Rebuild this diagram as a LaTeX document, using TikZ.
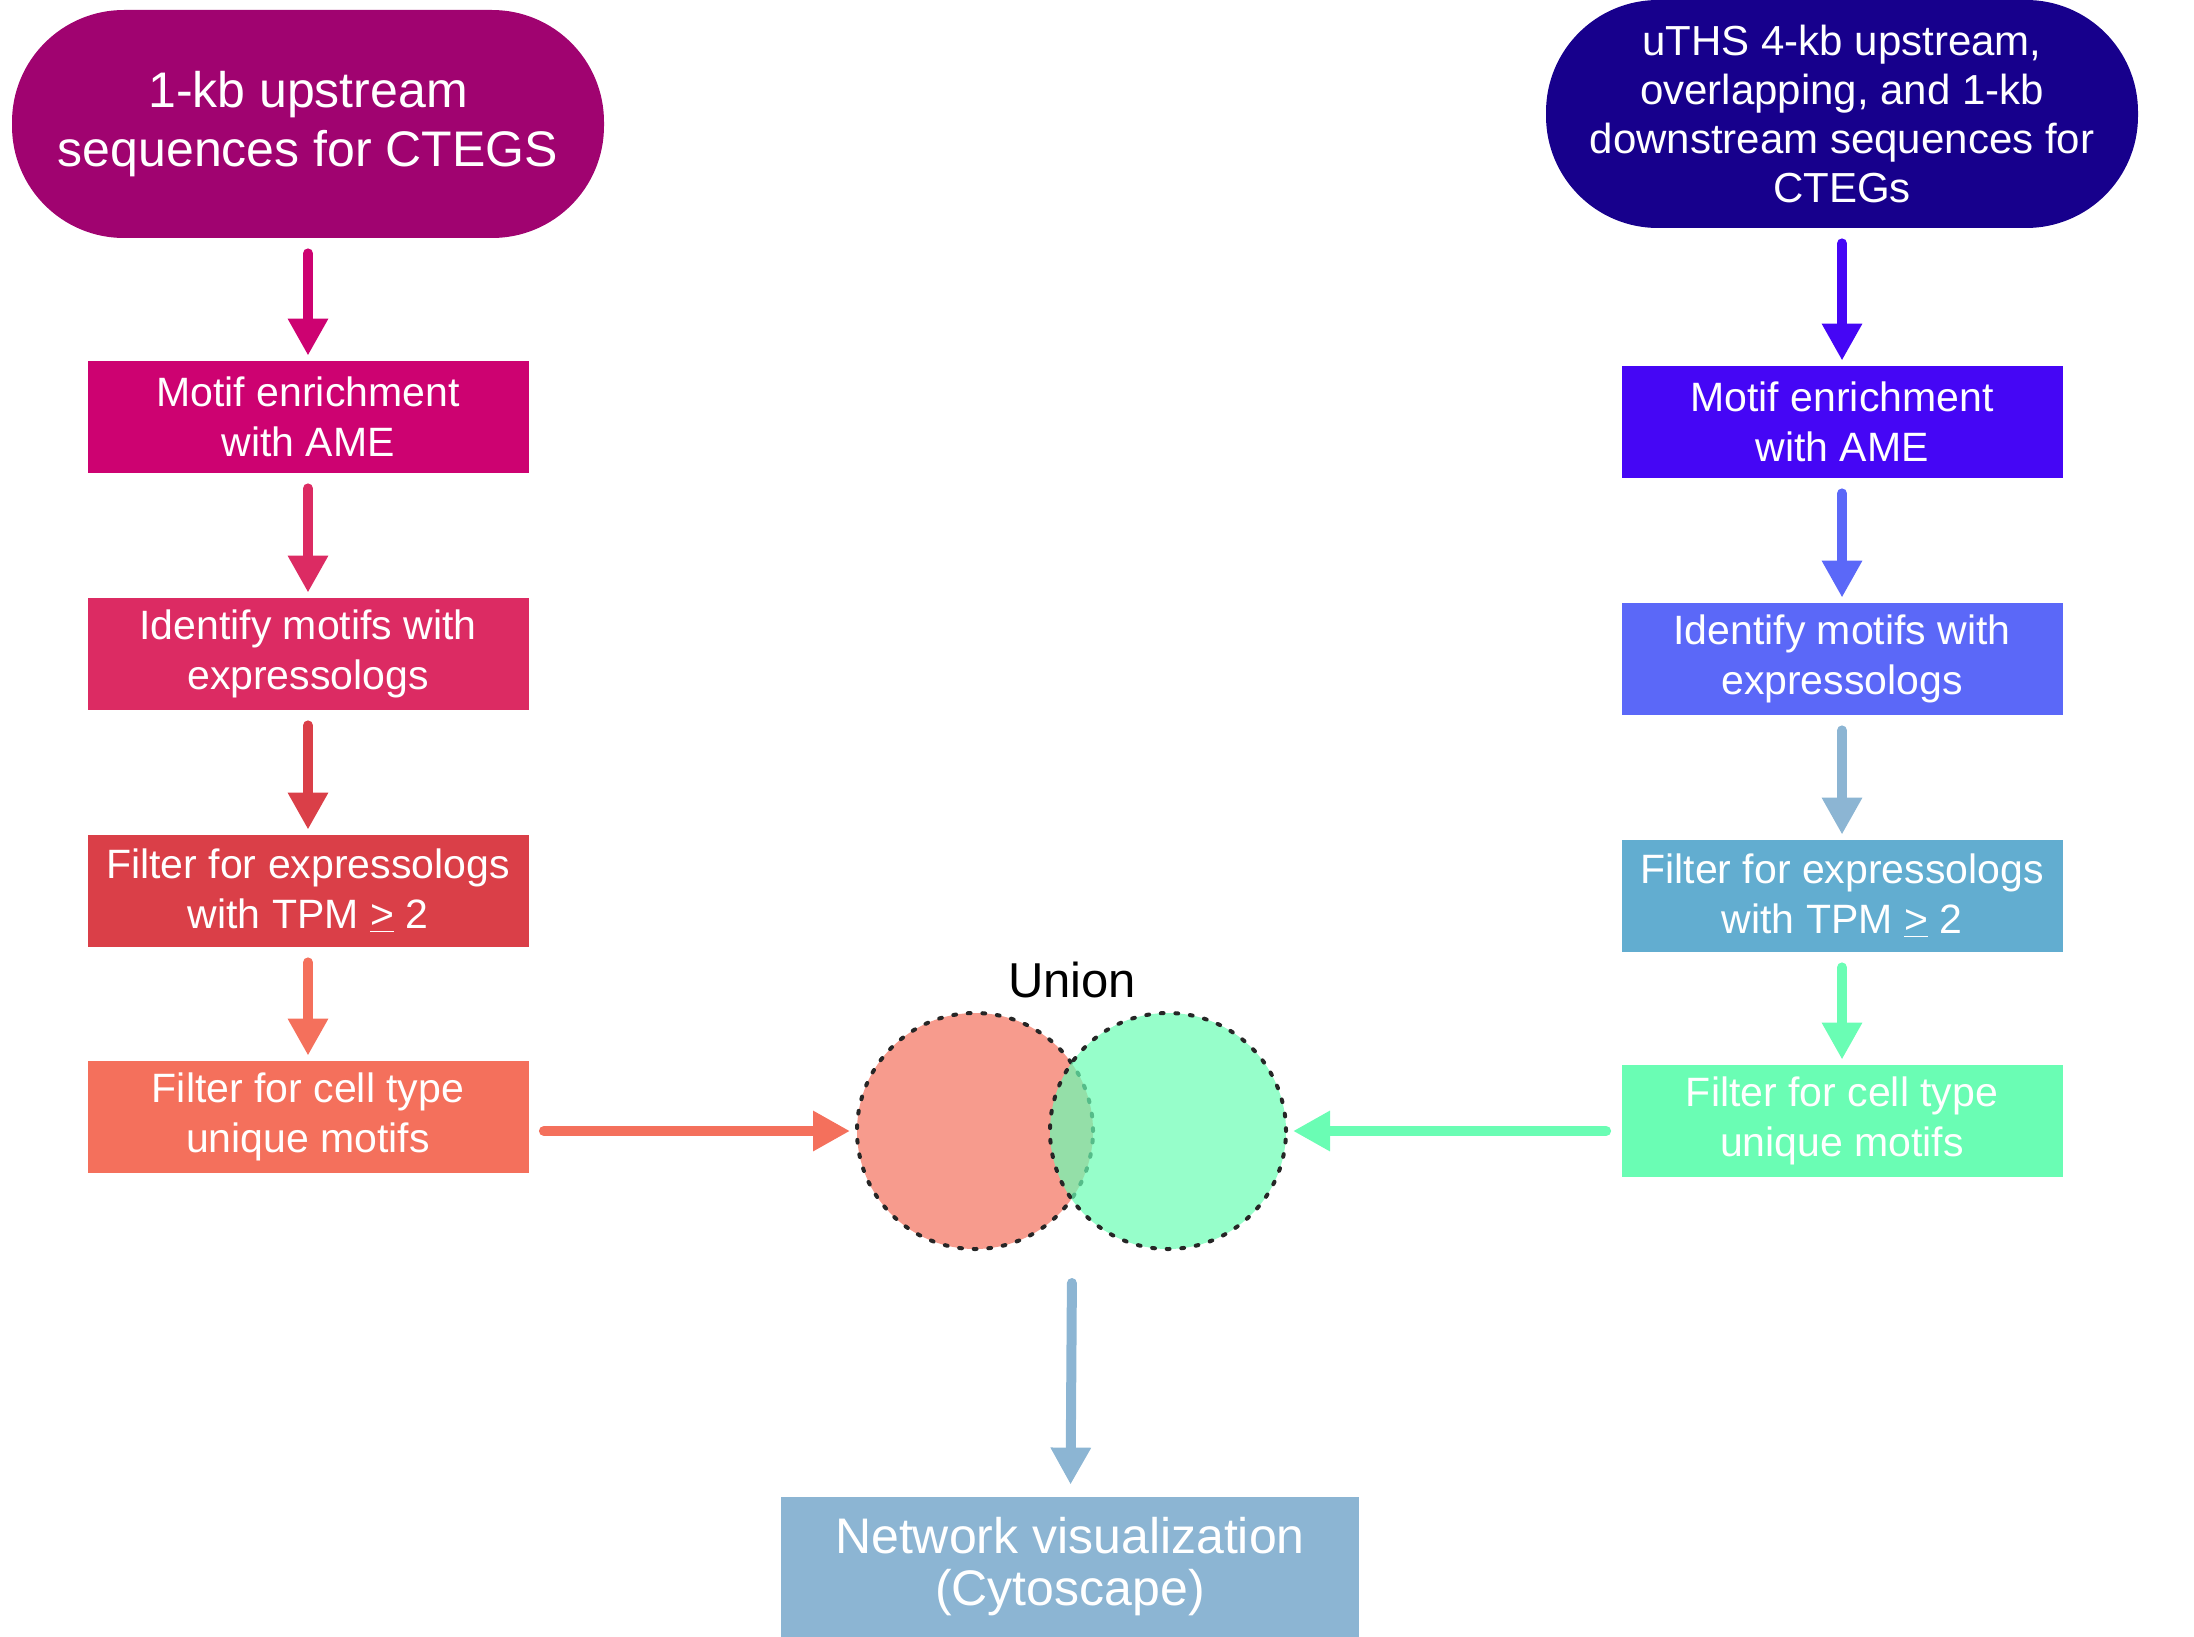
\documentclass[tikz,border=0pt]{standalone}
\usepackage{fontspec}
\setmainfont{Liberation Sans}
\usetikzlibrary{arrows.meta}

\definecolor{pillL}{HTML}{A00370}
\definecolor{pillR}{HTML}{17008C}
\definecolor{stepL1}{HTML}{CD0271}
\definecolor{stepL2}{HTML}{DC2B63}
\definecolor{stepL3}{HTML}{DA3F48}
\definecolor{stepL4}{HTML}{F4705C}
\definecolor{stepR1}{HTML}{4506F5}
\definecolor{stepR2}{HTML}{5B68F8}
\definecolor{stepR3}{HTML}{62ADD0}
\definecolor{stepR4}{HTML}{6AFDB4}
\definecolor{steelB}{HTML}{8CB5D3}

\tikzset{
  box/.style={rectangle, inner sep=0pt, minimum width=220.5pt, minimum height=56pt,
    text=white, align=center, font=\fontsize{20.5}{25}\selectfont},
  pill/.style={rectangle, rounded corners=56pt, inner sep=0pt, minimum width=296pt,
    minimum height=114pt, text=white, align=center},
  flow/.style={line width=5pt, line cap=round, -{Triangle[length=18.5pt,width=19pt]},
    shorten <=7.5pt, shorten >=2.5pt},
  venn/.style={circle, inner sep=0pt, minimum size=118pt, fill opacity=0.7,
    draw=black!85, line width=2pt, dash pattern=on 1.4pt off 5.9pt, line cap=round}
}

\begin{document}
\begin{tikzpicture}[x=0.5pt,y=-0.5pt]
  \clip (0,0) rectangle (2194,1637);

  % left column
  \node[pill, fill=pillL, font=\fontsize{25}{29.5}\selectfont] (pillL) at (308,124)
    {1-kb upstream\\sequences for CTEGS};
  \node[box, fill=stepL1] (l1) at (308,417) {Motif enrichment\\with AME};
  \node[box, fill=stepL2] (l2) at (308,654) {Identify motifs with\\expressologs};
  \node[box, fill=stepL3] (l3) at (308,891) {Filter for expressologs\\with TPM \underline{>} 2};
  \node[box, fill=stepL4] (l4) at (308,1117) {Filter for cell type\\unique motifs};

  % right column
  \node[pill, fill=pillR, font=\fontsize{21}{24.5}\selectfont] (pillR) at (1842,114)
    {uTHS 4-kb upstream,\\overlapping, and 1-kb\\downstream sequences for\\CTEGs};
  \node[box, fill=stepR1] (r1) at (1842,422) {Motif enrichment\\with AME};
  \node[box, fill=stepR2] (r2) at (1842,659) {Identify motifs with\\expressologs};
  \node[box, fill=stepR3] (r3) at (1842,896) {Filter for expressologs\\with TPM \underline{>} 2};
  \node[box, fill=stepR4] (r4) at (1842,1121) {Filter for cell type\\unique motifs};

  % union of both sets
  \node[font=\fontsize{24.5}{29}\selectfont] (unionlbl) at (1072,980) {Union};
  \node[venn, fill=stepL4] (setL) at (975,1131) {};
  \node[venn, fill=stepR4] (setR) at (1168,1131) {};
  \coordinate (vennfoot) at (1072,1268);

  \node[box, fill=steelB, minimum width=289pt, minimum height=70pt,
    font=\fontsize{25}{26}\selectfont] (net) at (1070,1567) {Network visualization\\(Cytoscape)};

  \foreach \from/\to/\col in {pillL/l1/stepL1, l1/l2/stepL2, l2/l3/stepL3, l3/l4/stepL4,
    pillR/r1/stepR1, r1/r2/stepR2, r2/r3/steelB, r3/r4/stepR4}{
    \draw[flow,\col] (\from) -- (\to);
  }
  \draw[flow,stepL4] (l4.east |- setL) -- (setL);
  \draw[flow,stepR4] (r4.west |- setR) -- (setR);
  \draw[flow,steelB,shorten >=6pt] (vennfoot) -- (net);
\end{tikzpicture}
\end{document}
